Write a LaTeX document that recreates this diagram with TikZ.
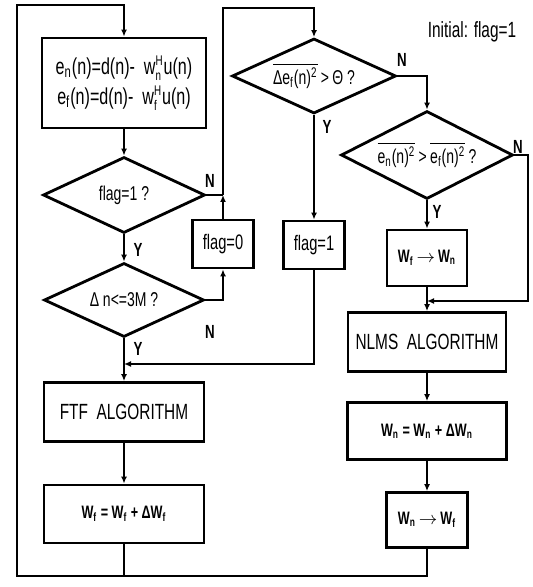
\documentclass[tikz,border=0pt]{standalone}
\usepackage{fontspec}
\setmainfont{Liberation Sans}[FakeStretch=0.7]
\usetikzlibrary{shapes.geometric,arrows.meta}

\newcommand\subsup[2]{\ensuremath{^{\hbox{\scriptsize #2}}_{\hbox{\scriptsize #1}}}}
\newcommand\goesto{\,\ensuremath{\rightarrow}\,}

\begin{document}
\begin{tikzpicture}[x = .5pt, y = .5pt,
    box/.style  = {draw, line width = 1.4pt, inner sep = 1pt, align = center},
    test/.style = {draw, diamond, line width = 1.4pt, inner sep = 0pt, shape aspect = 2.2, font = \fontsize{10}{12}\selectfont},
    flow/.style = {line width = 1.1pt, -{Latex[length = 3.5pt, width = 3pt]}},
    line/.style = {line width = 1.1pt},
    yn/.style   = {font = \fontsize{9.5}{9.5}\selectfont\bfseries}]

    \useasboundingbox (0, 0) rectangle (533, -587);

    % left column
    \node [box, minimum width = 82pt, minimum height = 45pt, font = \fontsize{11.5}{15}\selectfont] (eq) at (124, -83)
        {e\textsubscript{n}(n)=d(n)-\ \ w\subsup{n}{H}u(n)\\e\textsubscript{f}(n)=d(n)-\ \ w\subsup{f}{H}u(n)};
    \node [test, minimum width = 81pt, minimum height = 38pt] (dflag) at (124, -195) {flag=1 ?};
    \node [test, minimum width = 80pt, minimum height = 37pt] (deltan) at (124, -300) {Δ n<=3M ?};
    \node [box, minimum width = 80pt, minimum height = 29.5pt, font = \fontsize{11}{13}\selectfont] (ftf) at (124, -412) {FTF\ \ ALGORITHM};
    \node [box, minimum width = 80pt, minimum height = 29pt, font = \fontsize{9}{11}\selectfont\bfseries] (updf) at (124, -514)
        {W\textsubscript{f} = W\textsubscript{f} + ΔW\textsubscript{f}};

    % flags
    \node [box, minimum width = 30.5pt, minimum height = 24pt, font = \fontsize{10.5}{12}\selectfont] (flagzero) at (223, -244) {flag=0};
    \node [box, minimum width = 30.5pt, minimum height = 24pt, font = \fontsize{10.5}{12}\selectfont] (flagone) at (314, -245) {flag=1};
    \node [test, minimum width = 82pt, minimum height = 37.5pt] (conv) at (314, -76)
        {$\overline{\hbox{Δe\textsubscript{f}(n)\textsuperscript{2}}}$\,>\,Θ ?};

    % right column
    \node [test, minimum width = 86pt, minimum height = 44pt, shape aspect = 2] (cmp) at (427, -155)
        {$\overline{\hbox{e\textsubscript{n}(n)\textsuperscript{2}}}$\,>\,$\overline{\hbox{e\textsubscript{f}(n)\textsuperscript{2}}}$\,?};
    \node [box, minimum width = 40pt, minimum height = 28pt, font = \fontsize{9}{11}\selectfont\bfseries] (copyfn) at (427, -258)
        {W\textsubscript{f}\goesto W\textsubscript{n}};
    \node [box, minimum width = 79pt, minimum height = 29.5pt, font = \fontsize{11}{13}\selectfont] (nlms) at (427, -342) {NLMS\ \ ALGORITHM};
    \node [box, minimum width = 79.5pt, minimum height = 28.5pt, font = \fontsize{9}{11}\selectfont\bfseries] (updn) at (427, -431)
        {W\textsubscript{n} = W\textsubscript{n} + ΔW\textsubscript{n}};
    \node [box, minimum width = 40.5pt, minimum height = 27.5pt, font = \fontsize{9}{11}\selectfont\bfseries] (copynf) at (427, -520)
        {W\textsubscript{n}\goesto W\textsubscript{f}};

    \node [font = \fontsize{11}{13}\selectfont] (init) at (472, -32) {Initial: flag=1};

    % junctions
    \coordinate (jzero)  at (flagzero |- dflag.east);
    \coordinate (ctop)   at (223, -8);
    \coordinate (jone)   at (124, -364);
    \coordinate (cright) at (528, -301);
    \coordinate (jmerge) at (427, -301);
    \coordinate (cbot)   at (17, -576);
    \coordinate (ctopl)  at (17, -5);

    % connectors
    \draw [flow] (eq) -- (dflag);
    \draw [flow] (dflag) -- (deltan);
    \draw [flow] (deltan) -- (ftf);
    \draw [flow] (ftf) -- (updf);
    \draw [line] (dflag.east) -- (jzero);
    \draw [flow] (deltan.east) -| (flagzero.south);
    \draw [flow] (flagzero.north) -- (jzero);
    \draw [flow] (jzero) -- (ctop) -| (conv.north);
    \draw [flow] (conv) -- (flagone);
    \draw [flow] (flagone.south) |- (jone);
    \draw [flow] (conv.east) -| (cmp.north);
    \draw [flow] (cmp) -- (copyfn);
    \draw [flow] (cmp.east) -| (cright) -- (jmerge);
    \draw [flow] (copyfn) -- (nlms);
    \draw [flow] (nlms) -- (updn);
    \draw [flow] (updn) -- (copynf);
    \draw [flow] (copynf.south) |- (cbot) -- (ctopl) -| (eq.north);
    \draw [line] (updf.south) -- (updf.south |- cbot);

    % branch labels
    \node [yn] (ydflag)  at (138, -250) {Y};
    \node [yn] (ndflag)  at (210, -181) {N};
    \node [yn] (ydeltan) at (138, -349) {Y};
    \node [yn] (ndeltan) at (210, -332) {N};
    \node [yn] (yconv)   at (327, -127) {Y};
    \node [yn] (nconv)   at (402, -60)  {N};
    \node [yn] (ycmp)    at (437, -212) {Y};
    \node [yn] (ncmp)    at (518, -147) {N};
\end{tikzpicture}
\end{document}
